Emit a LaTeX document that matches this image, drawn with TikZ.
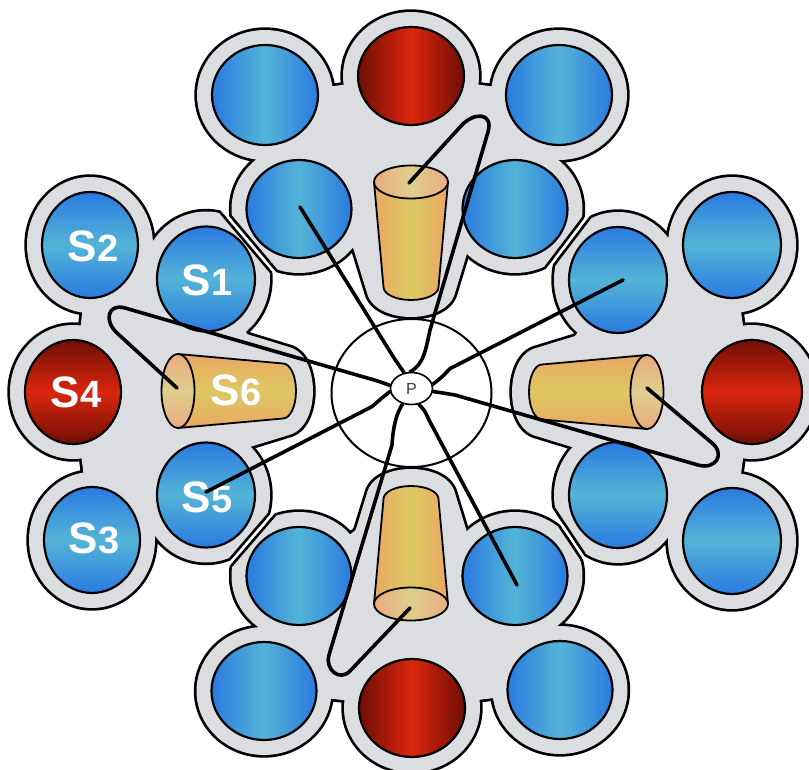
\documentclass[tikz,border=0pt]{standalone}
\usepackage{fontspec}
\setmainfont{Liberation Sans}
\usetikzlibrary{calc,shapes.geometric}

\definecolor{blueedge}{RGB}{42,122,224}
\definecolor{bluemid}{RGB}{84,180,214}
\definecolor{rededge}{RGB}{112,14,4}
\definecolor{redmid}{RGB}{218,38,14}
\definecolor{blobgray}{RGB}{220,221,224}
\definecolor{coneedge}{RGB}{234,168,100}
\definecolor{conemid}{RGB}{220,200,98}
\definecolor{faceedge}{RGB}{234,172,128}
\definecolor{facemid}{RGB}{222,206,140}
\definecolor{ptext}{RGB}{60,60,60}

\tikzset{
  ring/.style={draw=black, line width=2.2pt},
  bluev/.style={ring, top color=blueedge, bottom color=blueedge, middle color=bluemid},
  blueh/.style={ring, left color=blueedge, right color=blueedge, middle color=bluemid},
  redv/.style={ring, top color=rededge, bottom color=rededge, middle color=redmid},
  redh/.style={ring, left color=rededge, right color=rededge, middle color=redmid},
  bodyv/.style={draw=black, line width=1.8pt, line join=round, left color=coneedge, right color=coneedge, middle color=conemid},
  bodyh/.style={draw=black, line width=1.8pt, line join=round, top color=coneedge, bottom color=coneedge, middle color=conemid},
  facev/.style={draw=black, line width=1.8pt, left color=faceedge, right color=faceedge, middle color=facemid},
  faceh/.style={draw=black, line width=1.8pt, top color=faceedge, bottom color=faceedge, middle color=facemid},
  blobink/.style={fill=black, draw=black, line width=5.4pt, line join=round},
  blobfill/.style={fill=blobgray},
  wire/.style={draw=black, line width=3.6pt, line cap=round, line join=round},
  slabel/.style={text=white, inner sep=0pt, font=\bfseries\fontsize{44}{44}\selectfont},
}

% label "S" with a slightly smaller digit
\newcommand\snum[1]{S{\fontsize{38}{38}\selectfont #1}}

% half-plane clip: point (#1,#2), direction (#3,#4), inward normal (#5,#6), inset #7
\newcommand\hpclip[7]{%
  \clip ($(#1,#2)+#7*(#5,#6)-900*(#3,#4)$) -- ($(#1,#2)+#7*(#5,#6)+900*(#3,#4)$)
     -- ($(#1,#2)+#7*(#5,#6)+900*(#3,#4)+900*(#5,#6)$)
     -- ($(#1,#2)+#7*(#5,#6)-900*(#3,#4)+900*(#5,#6)$) -- cycle;}

% cluster backgrounds
\newcommand\blobtop[1]{%
  \path[#1] (265,95) ellipse [x radius=68, y radius=65]
            (411,76) ellipse [x radius=68, y radius=64]
            (559,95) ellipse [x radius=68, y radius=65]
            (299,209) ellipse [x radius=67.5, y radius=64]
            (515,209) ellipse [x radius=67.5, y radius=64];
  \path[#1] (265,95) -- (411,76) -- (559,95) -- (515,209) -- (411,290) -- (299,209) -- cycle;
  \path[#1, shift={(411,182)}] (-75,10) -- (-44,111) .. controls (-36,143) and (36,143) .. (44,111) -- (75,10) -- cycle;
}
\newcommand\blobbottom[1]{%
  \path[#1] (299,576) ellipse [x radius=67.5, y radius=64]
            (515,576) ellipse [x radius=67.5, y radius=64]
            (264,691) ellipse [x radius=67.5, y radius=64]
            (412,708) ellipse [x radius=68, y radius=64]
            (560,690) ellipse [x radius=67.5, y radius=64];
  \path[#1] (299,576) -- (411,485) -- (515,576) -- (560,690) -- (412,708) -- (264,691) -- cycle;
  \path[#1, shift={(411,604)}, yscale=-1] (-75,10) -- (-44,111) .. controls (-36,143) and (36,143) .. (44,111) -- (75,10) -- cycle;
}
\newcommand\blobleft[1]{%
  \path[#1] (90,245) ellipse [x radius=63, y radius=68]
            (206,279) ellipse [x radius=64, y radius=67.5]
            (73,392) ellipse [x radius=63, y radius=67]
            (206,495) ellipse [x radius=64, y radius=67.5]
            (92,540) ellipse [x radius=63, y radius=68];
  \path[#1] (90,245) -- (206,279) -- (290,391) -- (206,495) -- (92,540) -- (73,392) -- cycle;
  \path[#1, shift={(178,391)}] (10,-75) -- (111,-44) .. controls (143,-36) and (143,36) .. (111,44) -- (10,75) -- cycle;
}
\newcommand\blobright[1]{%
  \path[#1] (732,245) ellipse [x radius=64, y radius=68]
            (618,280) ellipse [x radius=64, y radius=68]
            (752,392) ellipse [x radius=65, y radius=67]
            (618,495) ellipse [x radius=64, y radius=68]
            (732,541) ellipse [x radius=64, y radius=68];
  \path[#1] (732,245) -- (752,392) -- (732,541) -- (618,495) -- (532,392) -- (618,280) -- cycle;
  \path[#1, shift={(647,392)}, xscale=-1] (10,-75) -- (111,-44) .. controls (143,-36) and (143,36) .. (111,44) -- (10,75) -- cycle;
}

% cones: wide end at (#1,#2), narrow end toward +y / +x (or the reverse with #3=-1)
\newcommand\vcone[3]{%
  \begin{scope}[shift={(#1,#2)}, yscale=#3]
    \path[bodyv] (-37,0) -- (-27.5,105) .. controls (-27.5,112.2) and (-15.2,118) .. (0,118)
      .. controls (15.2,118) and (27.5,112.2) .. (27.5,105) -- (37,0) -- cycle;
    \path[facev] (0,0) ellipse [x radius=37, y radius=16.5];
  \end{scope}}
\newcommand\hcone[3]{%
  \begin{scope}[shift={(#1,#2)}, xscale=#3]
    \path[bodyh] (0,-37) -- (105,-27.5) .. controls (112.2,-27.5) and (118,-15.2) .. (118,0)
      .. controls (118,15.2) and (112.2,27.5) .. (105,27.5) -- (0,37) -- cycle;
    \path[faceh] (0,0) ellipse [x radius=16.5, y radius=37];
  \end{scope}}

\begin{document}
\begin{tikzpicture}[x=1pt, y=-1pt]
\useasboundingbox (0,0) rectangle (809,770);

% ---- cluster backgrounds: outline layer, then grey layer ----
\begin{scope}
  \hpclip{246}{238.5}{0.644}{0.765}{0.765}{-0.644}{1.5}
  \hpclip{568.5}{241.5}{-0.605}{0.797}{-0.797}{-0.605}{1.5}
  \blobtop{blobink}
\end{scope}
\begin{scope}
  \hpclip{246}{238.5}{0.644}{0.765}{0.765}{-0.644}{4.2}
  \hpclip{568.5}{241.5}{-0.605}{0.797}{-0.797}{-0.605}{4.2}
  \blobtop{blobfill}
\end{scope}

\begin{scope}
  \hpclip{246}{238.5}{0.644}{0.765}{-0.765}{0.644}{1.5}
  \hpclip{249.5}{540.5}{0.652}{-0.758}{-0.758}{-0.652}{1.5}
  \blobleft{blobink}
\end{scope}
\begin{scope}
  \hpclip{246}{238.5}{0.644}{0.765}{-0.765}{0.644}{4.2}
  \hpclip{249.5}{540.5}{0.652}{-0.758}{-0.758}{-0.652}{4.2}
  \blobleft{blobfill}
\end{scope}

\begin{scope}
  \hpclip{568.5}{241.5}{-0.605}{0.797}{0.797}{0.605}{1.5}
  \hpclip{568.3}{534.6}{0.555}{0.832}{0.832}{-0.555}{1.5}
  \blobright{blobink}
\end{scope}
\begin{scope}
  \hpclip{568.5}{241.5}{-0.605}{0.797}{0.797}{0.605}{4.2}
  \hpclip{568.3}{534.6}{0.555}{0.832}{0.832}{-0.555}{4.2}
  \blobright{blobfill}
\end{scope}

\begin{scope}
  \hpclip{249.5}{540.5}{0.652}{-0.758}{0.758}{0.652}{1.5}
  \hpclip{568.3}{534.6}{0.555}{0.832}{-0.832}{0.555}{1.5}
  \blobbottom{blobink}
\end{scope}
\begin{scope}
  \hpclip{249.5}{540.5}{0.652}{-0.758}{0.758}{0.652}{4.2}
  \hpclip{568.3}{534.6}{0.555}{0.832}{-0.832}{0.555}{4.2}
  \blobbottom{blobfill}
\end{scope}

% ---- top cluster ----
\path[blueh] (265,95) ellipse [x radius=53, y radius=50];
\path[redh]  (411,76) ellipse [x radius=53, y radius=49];
\path[blueh] (559,95) ellipse [x radius=53, y radius=50];
\path[blueh] (299,209) ellipse [x radius=52.5, y radius=49];
\path[blueh] (515,209) ellipse [x radius=52.5, y radius=49];
\vcone{411}{182}{1}

% ---- bottom cluster ----
\path[blueh] (299,576) ellipse [x radius=52.5, y radius=49];
\path[blueh] (515,576) ellipse [x radius=52.5, y radius=49];
\path[blueh] (264,691) ellipse [x radius=52.5, y radius=49];
\path[redh]  (412,708) ellipse [x radius=53, y radius=49];
\path[blueh] (560,690) ellipse [x radius=52.5, y radius=49];
\vcone{411}{604}{-1}

% ---- left cluster ----
\path[bluev] (90,245) ellipse [x radius=48, y radius=53];
\path[bluev] (206,279) ellipse [x radius=49, y radius=52.5];
\path[redv]  (73,392) ellipse [x radius=48, y radius=52];
\path[bluev] (206,495) ellipse [x radius=49, y radius=52.5];
\path[bluev] (92,540) ellipse [x radius=48, y radius=53];
\hcone{178}{391}{1}

% ---- right cluster ----
\path[bluev] (732,245) ellipse [x radius=49, y radius=53];
\path[bluev] (618,280) ellipse [x radius=49, y radius=53];
\path[redv]  (752,392) ellipse [x radius=50, y radius=52];
\path[bluev] (618,495) ellipse [x radius=49, y radius=53];
\path[bluev] (732,541) ellipse [x radius=49, y radius=53];
\hcone{647}{392}{-1}

% ---- ring around P ----
\draw[line width=2pt] (411.5,393) ellipse [x radius=80, y radius=74];

% ---- labels ----
\node[slabel] (s2) at (93,246) {\snum{2}};
\node[slabel] (s1) at (207,280) {\snum{1}};
\node[slabel] (s4) at (76,392) {\snum{4}};
\node[slabel] (s6) at (236,390) {\snum{6}};
\node[slabel] (s5) at (207,497) {\snum{5}};
\node[slabel] (s3) at (94,538) {\snum{3}};

% ---- connector end points ----
\coordinate (t4tip) at (300,207);
\coordinate (tcone) at (409,183);
\coordinate (lcone) at (177,388);
\coordinate (s5tip) at (206,492);
\coordinate (r2tip) at (623,280);
\coordinate (rcone) at (647,388);
\coordinate (b2tip) at (517,585);
\coordinate (bcone) at (410,608);

\node[ellipse, draw, line width=1.6pt, fill=white, minimum width=42pt, minimum height=32pt,
      inner sep=0pt, text=ptext, font=\fontsize{16}{16}\selectfont] (P) at (411.5,388.5) {P};

% ---- connectors ----
\draw[wire] (P.115) .. controls (399,366) .. (394,358) -- (t4tip);
\draw[wire] (P.95) .. controls (424,365) and (426,348) .. (430,330) -- (488,132)
  .. controls (493.6,112.8) and (474.5,111.2) .. (461,126) -- (tcone);
\draw[wire] (P.172) .. controls (378,381) .. (362,376.5) -- (125,308)
  .. controls (107.7,303) and (103.7,320.8) .. (117,333) -- (lcone);
\draw[wire] (P.188) .. controls (383,397) .. (372,406.6) -- (s5tip);
\draw[wire] (P.11) .. controls (441,378) .. (450,368.6) -- (r2tip);
\draw[wire] (P.352) .. controls (443,393) .. (455,395) -- (698,465)
  .. controls (715.3,470) and (725.7,454.6) .. (712,443) -- (rcone);
\draw[wire] (P.295) .. controls (425,411) .. (429,420) -- (b2tip);
\draw[wire] (P.240) .. controls (396,414) and (393,428) .. (392,445) -- (329,655)
  .. controls (324.7,669.4) and (339.6,681.9) .. (350,671) -- (bcone);

\end{tikzpicture}
\end{document}
